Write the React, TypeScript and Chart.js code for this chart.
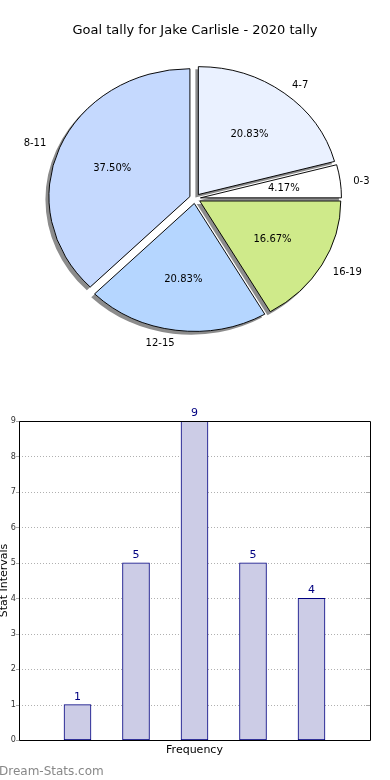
import React, { useEffect, useRef } from 'react';
import { Chart, registerables } from 'chart.js';

Chart.register(...registerables);

// ---- data ----
const chartTitle = 'Goal tally for Jake Carlisle - 2020 tally';
const pieLabels = ['4-7', '0-3', '16-19', '12-15', '8-11'];
const pieValues = [5, 1, 4, 5, 9];
const pieColors = ['#EAF1FF', '#FFFFFF', '#CFEA8A', '#B5D6FF', '#C5D9FE'];

const barCategories = ['0-3', '4-7', '8-11', '12-15', '16-19'];
const barValues = [1, 5, 9, 5, 4];
const yMin = 0;
const yMax = 9;
const xAxisTitle = 'Frequency';
const yAxisTitle = 'Stat Intervals';
const watermark = 'Dream-Stats.com';

// ---- style ----
const FONT = '"DejaVu Sans", "Noto Sans", sans-serif';
const TICK_FONT = '"DejaVu Sans Condensed", "DejaVu Sans", sans-serif';
const SY = 0.907; // vertical squash of the pie (ellipse)
const EXPLODE = 5.5;
const SHADOW = 3;
const PIE_RADIUS = 141;
// small text nudges for the outer slice labels (style only)
const outerLabelNudgeX = [3, 0, 7, -13, -5];
const outerLabelNudgeY = [8, 3, -2, -6, 3];

function PieChart() {
  const ref = useRef<HTMLCanvasElement>(null);
  useEffect(() => {
    const canvas = ref.current;
    if (!canvas) return;
    const total = pieValues.reduce((a, b) => a + b, 0);
    const deco = {
      id: 'pieDeco',
      beforeDatasetsDraw(chart: any) {
        const ctx = chart.ctx as CanvasRenderingContext2D;
        const arcs = chart.getDatasetMeta(0).data as any[];
        if (!arcs.length) return;
        const cx = arcs[0].x;
        const cy = arcs[0].y;
        ctx.save();
        ctx.translate(cx, cy);
        ctx.scale(1, SY);
        ctx.translate(-cx, -cy);
        ctx.fillStyle = '#8c8c8c';
        arcs.forEach((a) => {
          const mid = (a.startAngle + a.endAngle) / 2;
          const ox = a.x + Math.cos(mid) * EXPLODE - SHADOW;
          const oy = a.y + Math.sin(mid) * EXPLODE + SHADOW / SY;
          ctx.beginPath();
          ctx.moveTo(ox, oy);
          ctx.arc(ox, oy, a.outerRadius + 0.5, a.startAngle, a.endAngle);
          ctx.closePath();
          ctx.fill();
        });
        arcs.forEach((a) => {
          const mid = (a.startAngle + a.endAngle) / 2;
          ctx.save();
          ctx.translate(Math.cos(mid) * EXPLODE, Math.sin(mid) * EXPLODE);
          a.draw(ctx);
          ctx.restore();
        });
        ctx.restore();
        return false;
      },
      afterDraw(chart: any) {
        const ctx = chart.ctx as CanvasRenderingContext2D;
        const arcs = chart.getDatasetMeta(0).data as any[];
        ctx.save();
        ctx.fillStyle = '#000';
        ctx.textAlign = 'center';
        ctx.textBaseline = 'alphabetic';
        ctx.font = `13px ${FONT}`;
        ctx.fillText(chartTitle, chart.width / 2, 34);
        ctx.font = `10px ${FONT}`;
        ctx.textBaseline = 'middle';
        arcs.forEach((a, i) => {
          const mid = (a.startAngle + a.endAngle) / 2;
          const R = a.outerRadius;
          const pct = ((pieValues[i] / total) * 100).toFixed(2) + '%';
          ctx.fillText(pct, a.x + Math.cos(mid) * R * 0.635, a.y + Math.sin(mid) * R * 0.635 * SY + 0.5);
          ctx.fillText(
            pieLabels[i],
            a.x + Math.cos(mid) * R * 1.19 + outerLabelNudgeX[i],
            a.y + Math.sin(mid) * R * 1.19 * SY + outerLabelNudgeY[i]
          );
        });
        ctx.restore();
      },
    };
    const chart = new Chart(canvas, {
      type: 'pie',
      data: {
        labels: pieLabels,
        datasets: [
          {
            data: pieValues,
            backgroundColor: pieColors,
            borderColor: '#000',
            borderWidth: 1,
            radius: PIE_RADIUS,
          } as any,
        ],
      },
      options: {
        responsive: false,
        animation: false,
        radius: PIE_RADIUS,
        layout: { padding: { top: 17, left: 0, right: 0, bottom: 0 } },
        plugins: {
          legend: { display: false },
          tooltip: { enabled: false },
          title: { display: false },
        },
      } as any,
      plugins: [deco as any],
    });
    return () => chart.destroy();
  }, []);
  return (
    <canvas
      ref={ref}
      width={390}
      height={380}
      style={{ position: 'absolute', left: 0, top: 0, width: 390, height: 380 }}
    />
  );
}

function BarChart() {
  const ref = useRef<HTMLCanvasElement>(null);
  useEffect(() => {
    const canvas = ref.current;
    if (!canvas) return;
    const labels = ['', ...barCategories, ''];
    const data = [null, ...barValues, null];
    const deco = {
      id: 'barDeco',
      beforeDatasetsDraw(chart: any) {
        const ctx = chart.ctx as CanvasRenderingContext2D;
        const { left, right } = chart.chartArea;
        const ys = chart.scales.y;
        ctx.save();
        ctx.lineWidth = 1;
        ys.ticks.forEach((t: any) => {
          const py = Math.round(ys.getPixelForValue(t.value)) + 0.5;
          ctx.setLineDash([1, 2]);
          ctx.strokeStyle = '#b0b0b0';
          ctx.beginPath();
          ctx.moveTo(left, py);
          ctx.lineTo(right - 4, py);
          ctx.stroke();
          ctx.setLineDash([]);
          ctx.strokeStyle = '#aaaaaa';
          ctx.beginPath();
          ctx.moveTo(left - 3, py);
          ctx.lineTo(left, py);
          ctx.moveTo(right - 4, py);
          ctx.lineTo(right, py);
          ctx.stroke();
        });
        ctx.restore();
      },
      afterDatasetsDraw(chart: any) {
        const ctx = chart.ctx as CanvasRenderingContext2D;
        const { left, right, top, bottom } = chart.chartArea;
        ctx.save();
        ctx.strokeStyle = '#000';
        ctx.lineWidth = 1;
        ctx.beginPath();
        ctx.rect(left + 0.5, top + 0.5, right - left, bottom - top);
        ctx.stroke();
        // value labels
        const meta = chart.getDatasetMeta(0);
        ctx.fillStyle = '#000080';
        ctx.font = `11px ${FONT}`;
        ctx.textAlign = 'center';
        ctx.textBaseline = 'alphabetic';
        meta.data.forEach((bar: any, i: number) => {
          const v = data[i];
          if (v === null || v === undefined) return;
          ctx.fillText(String(v), bar.x, bar.y - 5);
        });
        // axis titles
        ctx.fillStyle = '#000';
        ctx.font = `11px ${FONT}`;
        ctx.fillText(xAxisTitle, (left + right) / 2, 373);
        ctx.save();
        ctx.translate(7, (top + bottom) / 2);
        ctx.rotate(-Math.PI / 2);
        ctx.fillText(yAxisTitle, 0, 0);
        ctx.restore();
        // watermark
        ctx.fillStyle = '#888888';
        ctx.font = `12px ${FONT}`;
        ctx.textAlign = 'left';
        ctx.fillText(watermark, -1, 394.5);
        ctx.restore();
      },
    };
    const chart = new Chart(canvas, {
      type: 'bar',
      data: {
        labels,
        datasets: [
          {
            data,
            backgroundColor: '#CCCCE6',
            borderColor: '#000080',
            borderWidth: 1,
            borderSkipped: false,
            barThickness: 27,
          } as any,
        ],
      },
      options: {
        responsive: false,
        animation: false,
        layout: { padding: { top: 41, right: 20, left: 0, bottom: 0 } },
        plugins: {
          legend: { display: false },
          tooltip: { enabled: false },
          title: { display: false },
        },
        scales: {
          x: {
            type: 'category',
            offset: false,
            ticks: { display: false },
            grid: { display: false, drawTicks: false },
            border: { display: false },
            afterFit(s: any) {
              s.height = 40;
            },
          },
          y: {
            min: yMin,
            max: yMax,
            ticks: { stepSize: 1, font: { family: TICK_FONT, size: 9 }, color: '#333', padding: 3 },
            grid: { display: false, drawTicks: false },
            border: { display: false },
            afterFit(s: any) {
              s.width = 19;
            },
          },
        },
      } as any,
      plugins: [deco as any],
    });
    return () => chart.destroy();
  }, []);
  return (
    <canvas
      ref={ref}
      width={390}
      height={400}
      style={{ position: 'absolute', left: 0, top: 380, width: 390, height: 400 }}
    />
  );
}

export default function App() {
  return (
    <div
      style={{
        position: 'absolute',
        left: 0,
        top: 0,
        width: 390,
        height: 780,
        background: '#fff',
        overflow: 'hidden',
      }}
    >
      <PieChart />
      <BarChart />
    </div>
  );
}
